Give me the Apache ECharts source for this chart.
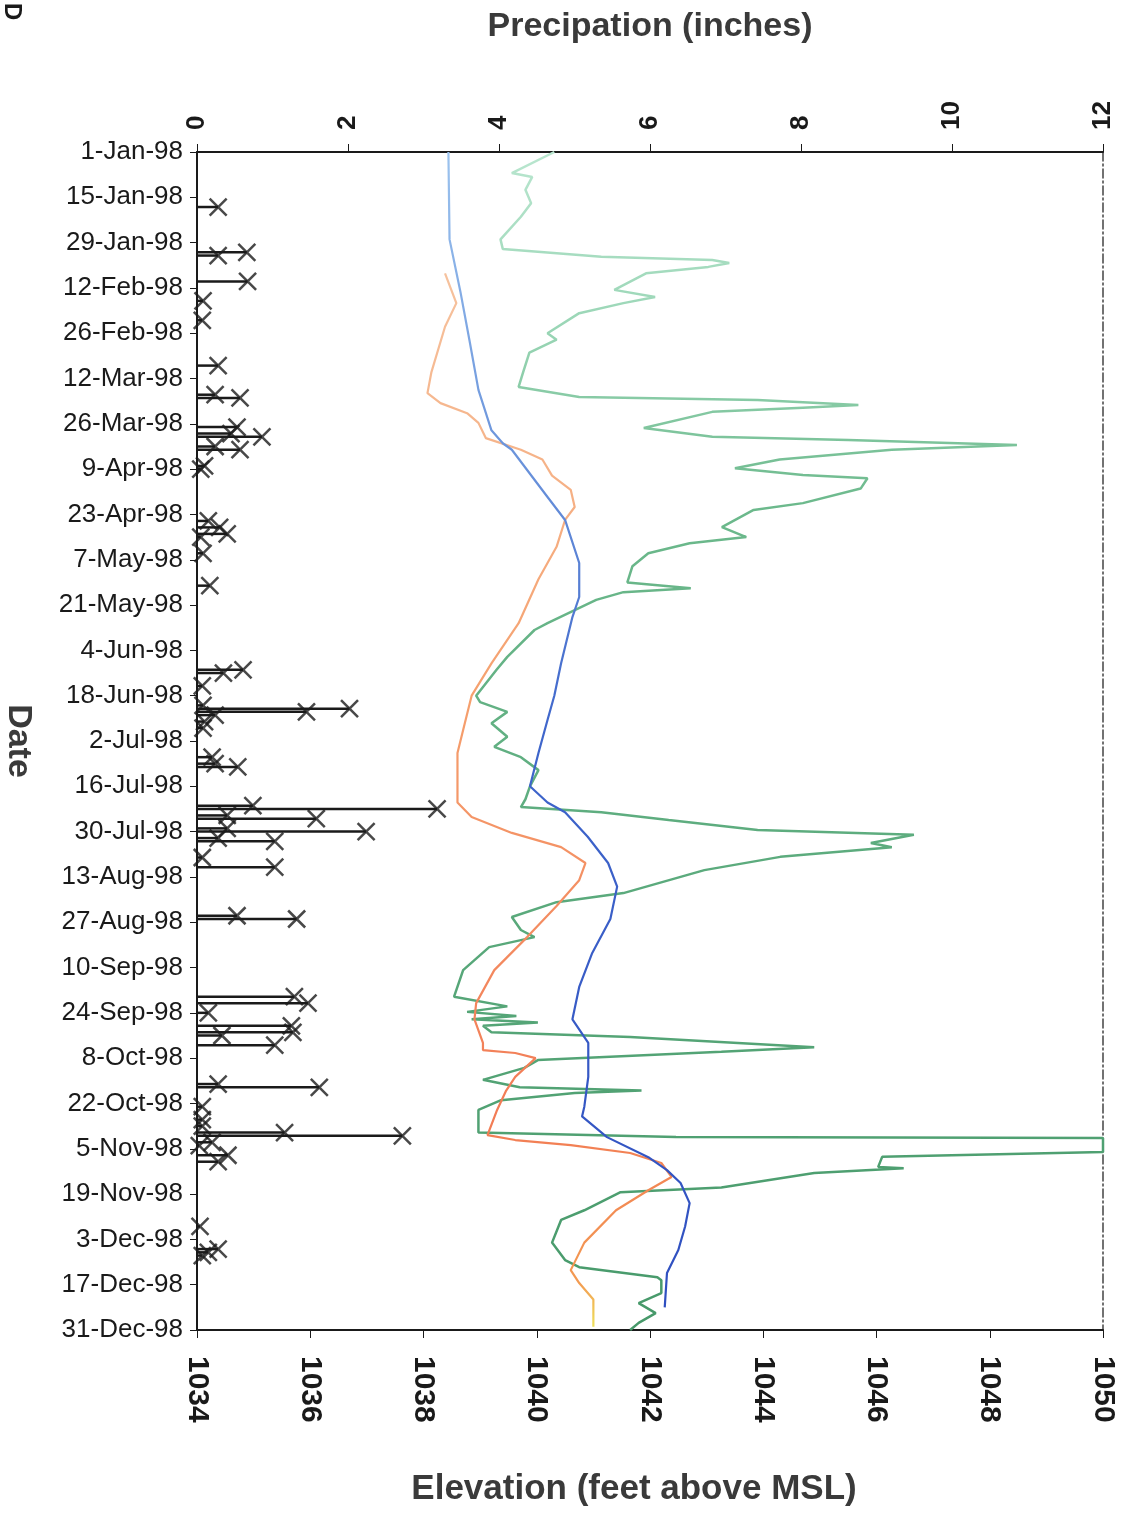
<!DOCTYPE html>
<html>
<head>
<meta charset="utf-8">
<title>Precipitation and elevation 1998</title>
<script src="https://cdn.jsdelivr.net/npm/echarts@6/dist/echarts.min.js"></script>
<style>
  html, body { margin: 0; padding: 0; background: #fff; }
  #chart { width: 1137px; height: 1517px; }
</style>
</head>
<body>
<div id="chart"></div>
<script>
// date axis: day of year (0 = 1-Jan-98), labels every 14 days
const dateLabels = [
  '1-Jan-98', '15-Jan-98', '29-Jan-98', '12-Feb-98', '26-Feb-98', '12-Mar-98', '26-Mar-98',
  '9-Apr-98', '23-Apr-98', '7-May-98', '21-May-98', '4-Jun-98', '18-Jun-98', '2-Jul-98',
  '16-Jul-98', '30-Jul-98', '13-Aug-98', '27-Aug-98', '10-Sep-98', '24-Sep-98', '8-Oct-98',
  '22-Oct-98', '5-Nov-98', '19-Nov-98', '3-Dec-98', '17-Dec-98', '31-Dec-98'
];

// precipitation events (day of year, inches)
const precipDay = [17, 31, 32, 40, 46, 52, 66, 75, 76, 85, 87, 88, 91, 92, 97, 98, 114, 116, 118, 119,
  124, 134, 160, 161, 165, 171, 172, 173, 174, 176, 178, 187, 189, 190, 202, 203, 205, 206, 209, 210,
  212, 213, 218, 221, 236, 237, 261, 263, 266, 270, 272, 273, 276, 288, 289, 295, 299, 301, 303, 304,
  306, 307, 310, 312, 332, 339, 340, 341];
const precipIn = [0.28, 0.66, 0.28, 0.67, 0.08, 0.07, 0.28, 0.24, 0.57, 0.53, 0.45, 0.86, 0.24, 0.57, 0.1, 0.05, 0.15, 0.3, 0.4, 0.05,
  0.08, 0.17, 0.61, 0.35, 0.07, 0.08, 2.02, 1.45, 0.24, 0.1, 0.08, 0.2, 0.24, 0.54, 0.74, 3.18, 0.4, 1.58, 0.4, 2.24,
  0.28, 1.03, 0.07, 1.03, 0.53, 1.32, 1.29, 1.47, 0.15, 1.25, 1.27, 0.33, 1.03, 0.28, 1.62, 0.07, 0.07, 0.07, 1.16, 2.72,
  0.2, 0.03, 0.41, 0.28, 0.04, 0.28, 0.15, 0.07];

// blue elevation line
const blueDay = [0, 27, 43, 58, 73.5, 86, 90, 92, 106.6, 113.7, 127, 137.5, 143.7, 158, 168, 175.5, 185.7, 196,
  201, 204, 211.6, 219.7, 227, 237, 247.5, 258, 268, 275.3, 285.8, 295, 298, 304.4, 310.6, 314.6, 318.6,
  324.8, 332, 339.3, 346.4, 357];
const blueElev = [1038.44, 1038.46, 1038.65, 1038.81, 1038.97, 1039.2, 1039.4, 1039.56, 1040.19, 1040.5, 1040.75,
  1040.75, 1040.63, 1040.43, 1040.31, 1040.19, 1040.03, 1039.88, 1040.19, 1040.5, 1040.9, 1041.26, 1041.42,
  1041.3, 1040.98, 1040.75, 1040.63, 1040.91, 1040.91, 1040.84, 1040.8, 1041.24, 1041.97, 1042.3, 1042.54,
  1042.7, 1042.62, 1042.5, 1042.3, 1042.26];

// orange elevation line
const orangeDay = [37.5, 46.7, 54, 68, 74.5, 77.6, 80.7, 83.7, 88.4, 92, 95, 100, 104.4, 109.7, 113.7, 122, 132,
  145.6, 158, 168, 178.6, 185.7, 201, 205.5, 210.4, 214.8, 219.7, 225, 233, 242.6, 252.8, 263, 268, 275.3,
  277.5, 278.4, 280, 285.8, 290, 296, 303.8, 305.3, 306.9, 309.3, 312.4, 316.7, 320.8, 327, 337, 345.5,
  349.5, 354.6, 363];
const orangeElev = [1038.38, 1038.58, 1038.38, 1038.14, 1038.07, 1038.3, 1038.77, 1038.97, 1039.1, 1039.72, 1040.1,
  1040.27, 1040.6, 1040.67, 1040.5, 1040.35, 1040.03, 1039.68, 1039.2, 1038.85, 1038.7, 1038.6, 1038.6,
  1038.85, 1039.56, 1040.43, 1040.86, 1040.75, 1040.35, 1039.83, 1039.25, 1038.93, 1038.9, 1039.05, 1039.05,
  1039.62, 1039.98, 1039.62, 1039.46, 1039.3, 1039.13, 1039.62, 1040.6, 1041.65, 1042.2, 1042.38, 1041.97,
  1041.4, 1040.84, 1040.6, 1040.75, 1041.0, 1041.0];

// green elevation line
const greenDay = [0, 6.5, 7.7, 11.7, 15.8, 20, 27, 30, 32.4, 33.4, 34.3, 35.5, 37.5, 42.6, 44.8, 46.7, 49.8, 56,
  58, 62, 68, 72.6, 75.7, 76.6, 78.2, 79, 80.3, 85.3, 88, 89, 90.5, 92, 95, 97.7, 99.8, 100.8, 104, 108.5,
  110.6, 115.9, 119, 120.9, 124, 128, 133, 134.8, 136, 138.4, 145.6, 147.7, 156, 160, 168, 170, 173, 176.5,
  180.7, 183.8, 187, 191, 196, 200, 202.4, 204, 206.4, 209.5, 211, 213.5, 214.8, 217.8, 221.9, 229, 231.8,
  236.4, 240.4, 242.6, 245.7, 252.8, 261, 264, 265.7, 267, 268, 269, 270, 272, 273.5, 276.6, 278, 280.6,
  283, 286.7, 289, 290, 290.8, 293, 296, 303, 304.4, 304.7, 309, 310.5, 313.6, 314, 315.5, 320, 321.4,
  327, 330, 337, 342.4, 344.6, 347.7, 348.6, 352.6, 355.7, 358.8, 361.8, 364];
const greenElev = [1040.31, 1039.56, 1039.92, 1039.8, 1039.9, 1039.72, 1039.36, 1039.4, 1041.14, 1043.1, 1043.4,
  1043.03, 1041.93, 1041.37, 1042.09, 1041.53, 1040.75, 1040.19, 1040.35, 1039.87, 1039.76, 1039.68, 1040.75,
  1043.9, 1045.68, 1044.7, 1043.1, 1041.89, 1043.1, 1045.5, 1048.48, 1046.27, 1044.29, 1043.5, 1044.7,
  1045.84, 1045.72, 1044.7, 1043.83, 1043.27, 1043.7, 1042.7, 1041.97, 1041.69, 1041.6, 1042.72, 1041.53,
  1041.05, 1040.19, 1039.96, 1039.48, 1039.29, 1038.93, 1039.0, 1039.48, 1039.2, 1039.48, 1039.25, 1039.72,
  1040.03, 1039.88, 1039.8, 1039.72, 1041.14, 1042.33, 1043.9, 1046.66, 1045.9, 1046.27, 1044.3, 1042.96,
  1041.53, 1040.35, 1039.56, 1039.72, 1039.96, 1039.16, 1038.7, 1038.54, 1039.48, 1038.77, 1039.64, 1038.85,
  1040.02, 1039.05, 1039.2, 1041.65, 1044.9, 1043.26, 1040.02, 1039.78, 1039.05, 1039.7, 1041.85, 1040.67,
  1039.37, 1038.97, 1038.97, 1042.46, 1050, 1050, 1046.1, 1046.03, 1046.48, 1044.9, 1043.26, 1041.48,
  1040.84, 1040.43, 1040.27, 1040.5, 1040.75, 1042.13, 1042.2, 1042.2, 1041.8, 1042.1, 1041.8, 1041.65];

const pairs = (xs, ys) => ys.map((d, i) => [xs[i], d]);

const chart = echarts.init(document.getElementById('chart'));
const font = "'Liberation Sans', Arial, sans-serif";
const ink = '#1a1a1a';

const option = {
  animation: false,
  textStyle: { fontFamily: font },
  grid: { left: 197, right: 34, top: 152, bottom: 187, outerBoundsMode: 'none' },
  graphic: [
    {
      type: 'text', x: 24, y: 3, rotation: -Math.PI / 2,
      style: { text: 'D', font: 'bold 24px ' + font, fill: ink }
    }
  ],
  xAxis: [
    {
      type: 'value', position: 'top', min: 0, max: 12, interval: 2,
      name: 'Precipation (inches)', nameLocation: 'middle', nameGap: 108,
      nameTextStyle: { fontSize: 34, fontWeight: 'bold', color: '#3a3a3a' },
      axisLine: { show: true, onZero: false, lineStyle: { color: ink, width: 2 } },
      axisTick: { show: true, length: 8, lineStyle: { color: ink } },
      axisLabel: { rotate: -90, fontSize: 26, fontWeight: 'bold', color: ink, margin: 22 },
      splitLine: { show: false }
    },
    {
      type: 'value', position: 'bottom', min: 1034, max: 1050, interval: 2,
      name: 'Elevation (feet above MSL)', nameLocation: 'middle', nameGap: 142,
      nameTextStyle: { fontSize: 35, fontWeight: 'bold', color: '#3a3a3a', padding: [0, 32, 0, 0] },
      axisLine: { show: true, onZero: false, lineStyle: { color: ink, width: 2 } },
      axisTick: { show: true, length: 8, lineStyle: { color: ink } },
      axisLabel: { rotate: -90, fontSize: 30, fontWeight: 'bold', color: ink, margin: 26, formatter: v => String(v) },
      splitLine: { show: false }
    }
  ],
  yAxis: [
    {
      type: 'value', inverse: true, min: 0, max: 364, interval: 14,
      name: 'Date', nameLocation: 'middle', nameRotate: -90, nameGap: 162,
      nameTextStyle: { fontSize: 34, fontWeight: 'bold', color: '#3a3a3a' },
      axisLine: { show: true, onZero: false, lineStyle: { color: ink, width: 2 } },
      axisTick: { show: true, length: 7, lineStyle: { color: ink } },
      axisLabel: { fontSize: 26, color: ink, margin: 14, formatter: v => dateLabels[Math.round(v / 14)] },
      splitLine: { show: false }
    },
    {
      type: 'value', position: 'right', inverse: true, min: 0, max: 364,
      axisLine: { show: true, onZero: false, lineStyle: { color: '#444', width: 1.5, type: [9, 3, 2, 3] } },
      axisTick: { show: false }, axisLabel: { show: false }, splitLine: { show: false }
    }
  ],
  series: [
    {
      name: 'Green',
      type: 'line', xAxisIndex: 1, yAxisIndex: 0,
      data: pairs(greenElev, greenDay),
      showSymbol: false,
      lineStyle: {
        width: 2.5,
        color: new echarts.graphic.LinearGradient(0, 0, 0, 1, [
          { offset: 0, color: '#b9e6cf' },
          { offset: 0.15, color: '#9ad6b6' },
          { offset: 0.3, color: '#6cb98c' },
          { offset: 1, color: '#47996a' }
        ])
      },
      z: 2
    },
    {
      name: 'Orange',
      type: 'line', xAxisIndex: 1, yAxisIndex: 0,
      data: pairs(orangeElev, orangeDay),
      showSymbol: false,
      lineStyle: {
        width: 2.2,
        color: new echarts.graphic.LinearGradient(0, 0, 0, 1, [
          { offset: 0, color: '#f6c29e' },
          { offset: 0.4, color: '#f5a06e' },
          { offset: 0.8, color: '#f27b55' },
          { offset: 0.955, color: '#f39a52' },
          { offset: 1, color: '#ede45a' }
        ])
      },
      z: 3
    },
    {
      name: 'Blue',
      type: 'line', xAxisIndex: 1, yAxisIndex: 0,
      data: pairs(blueElev, blueDay),
      showSymbol: false,
      lineStyle: {
        width: 2.2,
        color: new echarts.graphic.LinearGradient(0, 0, 0, 1, [
          { offset: 0, color: '#9cc3ee' },
          { offset: 0.25, color: '#6d96dc' },
          { offset: 0.5, color: '#3f66cb' },
          { offset: 1, color: '#2f4fc0' }
        ])
      },
      z: 4
    },
    {
      name: 'Precipitation stems',
      type: 'custom', xAxisIndex: 0, yAxisIndex: 0,
      data: pairs(precipIn, precipDay),
      encode: { x: 0, y: 1 },
      renderItem: (params, api) => {
        const a = api.coord([0, api.value(1)]);
        const b = api.coord([api.value(0), api.value(1)]);
        return {
          type: 'line',
          shape: { x1: a[0], y1: a[1], x2: b[0], y2: b[1] },
          style: { stroke: ink, lineWidth: 2.5 }
        };
      },
      z: 5
    },
    {
      name: 'Precipitation',
      type: 'scatter', xAxisIndex: 0, yAxisIndex: 0,
      data: pairs(precipIn, precipDay),
      symbol: 'path://M0,0L10,10M10,0L0,10',
      symbolSize: 17,
      itemStyle: { color: 'rgba(0,0,0,0)', borderColor: ink, borderWidth: 2.5 },
      z: 6
    }
  ]
};

chart.setOption(option);
window.addEventListener('resize', () => chart.resize());
</script>
</body>
</html>
